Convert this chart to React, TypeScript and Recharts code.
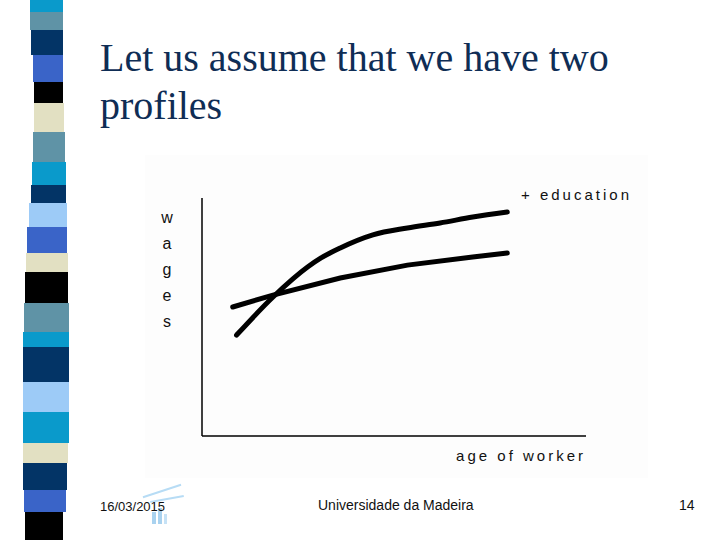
import React from "react";
import { LineChart, Line, XAxis, YAxis, Label } from "recharts";

// age of worker (0-100 scale) and wages for both profiles
const ageBasic = [8, 18.5, 36, 53.5, 70.5, 79.5];
const wageBasic = [54.2, 59.2, 66.4, 71.8, 75.2, 76.9];
const ageEducation = [9, 18.5, 27.5, 31, 36, 44.5, 53.5, 62, 70.5, 79.5];
const wageEducation = [42.4, 58.4, 71, 74.8, 79, 84.5, 87.4, 89.5, 92, 94.1];

const yLetters = ["w", "a", "g", "e", "s"];

const basicData = ageBasic.map((age, i) => ({ age, wage: wageBasic[i] }));
const educationData = ageEducation.map((age, i) => ({ age, wage: wageEducation[i] }));

// decorative stripe down the left edge of the slide
const stripeColors = [
  "#0a9acb", "#5f93a6", "#033466", "#3a64c8", "#000000", "#e2e0c2", "#5f93a6",
  "#0a9acb", "#033466", "#9dcbf7", "#3a64c8", "#e2e0c2", "#000000", "#5f93a6",
  "#0a9acb", "#033466", "#9dcbf7", "#0a9acb", "#e2e0c2", "#033466", "#3a64c8", "#000000",
];
const stripeEdges = [0, 12, 30, 55, 82, 103, 132, 162, 185, 203, 227, 253, 272, 303, 332, 347, 382, 412, 443, 463, 490, 512, 540];
const stripeLeft = [30, 30, 31, 33, 34, 34, 33, 32, 31, 29, 27, 26, 25, 24, 23, 23, 23, 23, 23, 23, 24, 25];
const stripeRight = [63, 63, 63, 63, 63, 64, 65, 66, 66, 67, 67, 68, 68, 69, 69, 69, 69, 69, 68, 67, 66, 63];

const sans = "'Liberation Sans', Arial, sans-serif";
const labelStyle = { fontFamily: sans, fontSize: 15, letterSpacing: 3, fill: "#111" };

function YLetters(props: any) {
  const { viewBox } = props;
  const x = viewBox.x + 22;
  return (
    <g>
      {yLetters.map((ch, i) => (
        <text key={ch + i} x={x} y={viewBox.y + 25 + i * 26} fontSize={16} fontFamily={sans} fill="#111" textAnchor="middle">
          {ch}
        </text>
      ))}
    </g>
  );
}

export default function App() {
  return (
    <div style={{ position: "absolute", left: 0, top: 0, width: 720, height: 540, background: "#fff", overflow: "hidden" }}>
      {stripeColors.map((c, i) => (
        <div
          key={i}
          style={{
            position: "absolute",
            left: stripeLeft[i],
            top: stripeEdges[i],
            width: stripeRight[i] - stripeLeft[i],
            height: stripeEdges[i + 1] - stripeEdges[i],
            background: c,
          }}
        />
      ))}

      <div
        style={{
          position: "absolute",
          left: 100,
          top: 34,
          fontFamily: "'Liberation Serif', 'Times New Roman', serif",
          fontSize: 40,
          lineHeight: "48px",
          color: "#0f2d55",
        }}
      >
        Let us assume that we have two
        <br />
        profiles
      </div>

      <div style={{ position: "absolute", left: 145, top: 155, width: 503, height: 323, background: "#fdfdfd" }}>
        <LineChart width={503} height={323} margin={{ top: 43, right: 62, bottom: 0, left: 0 }}>
          <XAxis
            type="number"
            dataKey="age"
            domain={[0, 100]}
            tick={false}
            tickLine={false}
            axisLine={{ stroke: "#000", strokeWidth: 1.5 }}
            height={42}
          >
            <Label value="age of worker" position="insideBottomRight" offset={0} dx={0} dy={-17} style={labelStyle} />
          </XAxis>
          <YAxis
            type="number"
            dataKey="wage"
            domain={[0, 100]}
            tick={false}
            tickLine={false}
            axisLine={{ stroke: "#000", strokeWidth: 1.5 }}
            width={57}
          >
            <Label content={<YLetters />} position="left" />
          </YAxis>
          <Line
            data={basicData}
            dataKey="wage"
            type="linear"
            stroke="#000"
            strokeWidth={5}
            strokeLinecap="round"
            dot={false}
            isAnimationActive={false}
          />
          <Line
            data={educationData}
            dataKey="wage"
            type="monotone"
            stroke="#000"
            strokeWidth={5}
            strokeLinecap="round"
            dot={false}
            isAnimationActive={false}
          />
        </LineChart>
        <div
          style={{
            position: "absolute",
            left: 376,
            top: 31,
            fontFamily: sans,
            fontSize: 15,
            letterSpacing: 3,
            color: "#111",
            whiteSpace: "nowrap",
          }}
        >
          + education
        </div>
      </div>

      <div style={{ position: "absolute", left: 142, top: 490, width: 40, height: 2, background: "#b7dcf5", transform: "rotate(-18deg)" }} />
      <div style={{ position: "absolute", left: 150, top: 498, width: 34, height: 2, background: "#b7dcf5", transform: "rotate(-10deg)" }} />
      <div style={{ position: "absolute", left: 152, top: 512, width: 4, height: 12, background: "#a9d2ef" }} />
      <div style={{ position: "absolute", left: 158, top: 508, width: 4, height: 16, background: "#a9d2ef" }} />
      <div style={{ position: "absolute", left: 164, top: 514, width: 3, height: 10, background: "#c6e2f6" }} />

      <div style={{ position: "absolute", left: 100, top: 499, fontFamily: sans, fontSize: 13, color: "#111" }}>16/03/2015</div>
      <div style={{ position: "absolute", left: 318, top: 497, fontFamily: sans, fontSize: 14, color: "#111" }}>
        Universidade da Madeira
      </div>
      <div style={{ position: "absolute", left: 679, top: 497, fontFamily: sans, fontSize: 14, color: "#111" }}>14</div>
    </div>
  );
}
